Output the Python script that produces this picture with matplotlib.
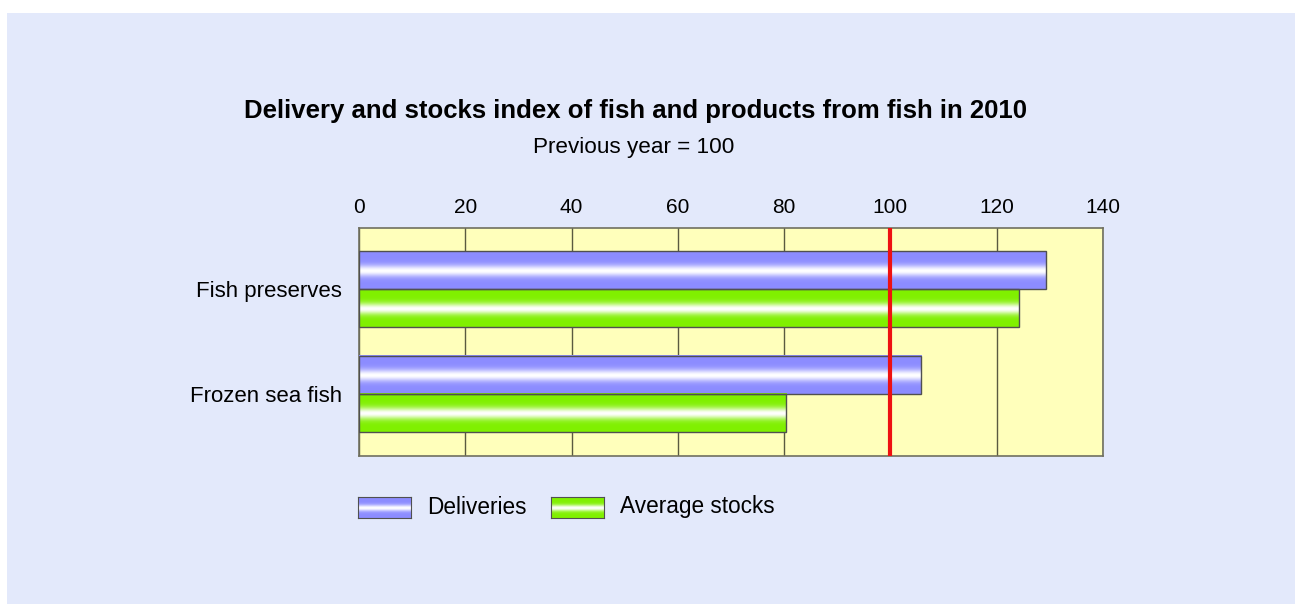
import numpy as np
import matplotlib.pyplot as plt
from matplotlib.patches import Rectangle

plt.rcParams['font.family'] = ['Liberation Sans', 'DejaVu Sans']

### data
categories = ['Fish preserves', 'Frozen sea fish']
deliveries = [129.3, 105.8]
avg_stocks = [124.2, 80.4]
series_names = ['Deliveries', 'Average stocks']
xticks = [0, 20, 40, 60, 80, 100, 120, 140]
reference = 100

title = 'Delivery and stocks index of fish and products from fish in 2010'
subtitle = 'Previous year = 100'

blue = np.array([140, 140, 255]) / 255
green = np.array([128, 240, 0]) / 255


def gradient(base, n=80):
    # dark edges, white highlight a bit below the middle
    t = np.linspace(0, 1, n)
    w = np.exp(-((t - 0.52) / 0.15) ** 2)
    img = base[None, :] * (1 - w[:, None]) + w[:, None]
    return img[:, None, :]


W, H = 1295, 604
fig = plt.figure(figsize=(W / 100, H / 100), dpi=100)
fig.patch.set_facecolor('white')
fig.patches.append(Rectangle((7 / W, 0), 1 - 7 / W, 1 - 13 / H, transform=fig.transFigure,
                             facecolor='#e3e9fb', edgecolor='none', zorder=-1))

ax = fig.add_axes([359 / W, 1 - 456 / H, (1103 - 359) / W, (456 - 228) / H])
ax.set_facecolor('#ffffbb')

h = 0.365
y = np.arange(len(categories))
for i in y:
    for vals, col, off in [(deliveries, blue, -h / 2), (avg_stocks, green, h / 2)]:
        yc = i + off
        ax.imshow(gradient(col), extent=(0, vals[i], yc + h / 2, yc - h / 2),
                  origin='upper', aspect='auto', zorder=3, interpolation='bilinear')
        ax.barh(yc, vals[i], height=h, facecolor='none', edgecolor='#505050',
                linewidth=1, zorder=4)

ax.set_xlim(0, 140)
ax.set_ylim(1.6, -0.59)
ax.set_xticks(xticks)
ax.xaxis.tick_top()
ax.tick_params(axis='x', length=0, pad=8, labelsize=15)
ax.set_yticks(y)
ax.set_yticklabels(categories)
ax.tick_params(axis='y', length=0, pad=12, labelsize=16)
ax.grid(axis='x', color='#5a5a40', linewidth=1, zorder=1)
ax.set_axisbelow(True)
for s in ax.spines.values():
    s.set_color('#707060')
    s.set_linewidth(1.2)
ax.axvline(reference, color='#ee1111', linewidth=3, zorder=5)

fig.text(636 / W, 1 - 111 / H, title, ha='center', va='center', fontsize=18.5, fontweight='bold')
fig.text(634 / W, 1 - 148 / H, subtitle, ha='center', va='center', fontsize=16.2)

# legend
for x0, col, label in [(358, blue, series_names[0]), (551, green, series_names[1])]:
    lax = fig.add_axes([x0 / W, 1 - 518 / H, 53 / W, 21 / H])
    lax.imshow(gradient(col), aspect='auto', extent=(0, 1, 0, 1), interpolation='bilinear')
    lax.set_xticks([])
    lax.set_yticks([])
    for s in lax.spines.values():
        s.set_color('#505050')
    fig.text((x0 + 69) / W, 1 - 507 / H, label, ha='left', va='center', fontsize=16.3)

fig.savefig('out.png', dpi=100)
